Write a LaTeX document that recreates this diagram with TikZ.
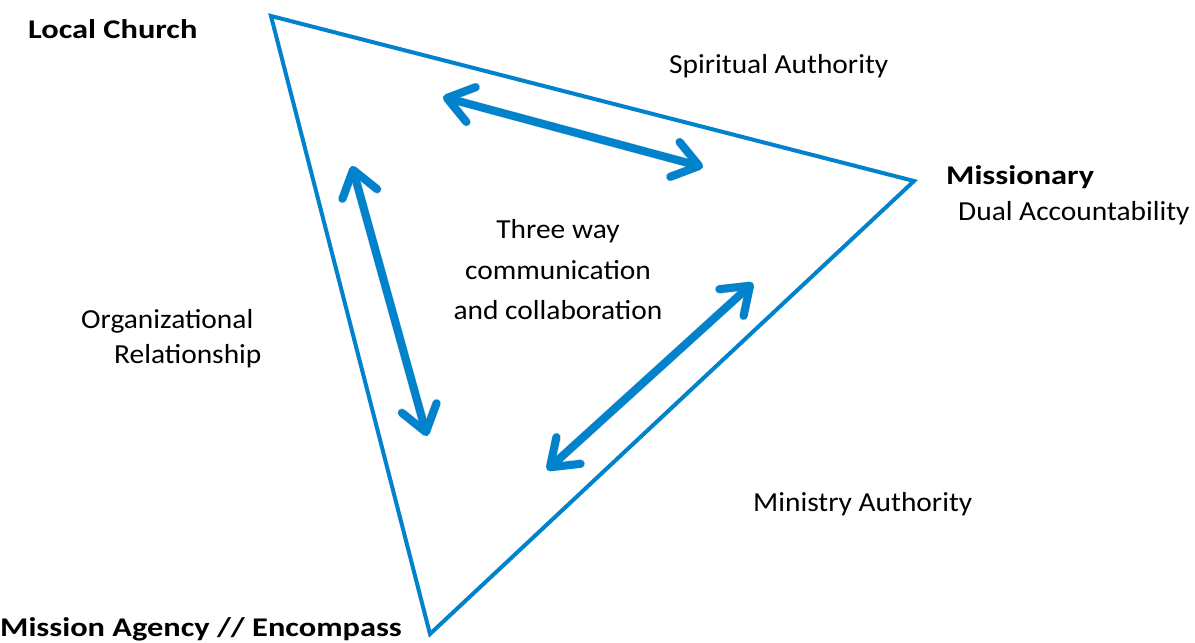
\documentclass[tikz,border=0pt]{standalone}
\usepackage{fontspec}
\setmainfont[FakeStretch=1.07]{Carlito}
\newfontfamily\boldfam[FakeStretch=1.2]{Carlito Bold}
\usetikzlibrary{arrows.meta}
\definecolor{tblue}{RGB}{0,130,204}
\begin{document}
\begin{tikzpicture}[x=1pt,y=-1pt,
  lbl/.style={inner sep=0pt,font=\fontsize{27.5}{32}\selectfont},
  blbl/.style={inner sep=0pt,font=\fontsize{27}{32}\boldfam},
  tri/.style={draw=tblue,line width=4pt,line join=miter},
  dbl/.style={draw=tblue,line width=8pt,line cap=round,
     {Straight Barb[length=25pt,width=36pt,round]}-{Straight Barb[length=25pt,width=36pt,round]}},
  shd/.style={draw=black,opacity=0.10,line width=9pt,line cap=round,
     {Straight Barb[length=25pt,width=36pt,round]}-{Straight Barb[length=25pt,width=36pt,round]}}]
\useasboundingbox (0,0) rectangle (1195,643);
\coordinate (LC) at (271,16);
\coordinate (MS) at (914,181);
\coordinate (MA) at (430,634);
\draw[tri] (LC) -- (MS) -- (MA) -- cycle;
% arrows end points
\coordinate (a1) at (443,97);  \coordinate (a2) at (703,167);
\coordinate (b1) at (352,166); \coordinate (b2) at (427,436);
\coordinate (c1) at (753,283); \coordinate (c2) at (547,470);
\begin{scope}[shift={(2,3)}]
\draw[shd] (a1) -- (a2);
\draw[shd] (b1) -- (b2);
\draw[shd] (c1) -- (c2);
\end{scope}
\draw[dbl] (a1) -- (a2);
\draw[dbl] (b1) -- (b2);
\draw[dbl] (c1) -- (c2);
% labels
\node[blbl,anchor=west] (tLC) at (28,29) {Local Church};
\node[blbl,anchor=west] (tMS) at (946,177) {Missionary};
\node[blbl,anchor=west] (tMA) at (0,629) {Mission Agency // Encompass};
\node[lbl,anchor=west] (tSA) at (669,66) {Spiritual Authority};
\node[lbl,anchor=west] (tDA) at (958,213) {Dual Accountability};
\node[lbl,anchor=west] (tMin) at (753,504) {Ministry Authority};
\node[lbl,anchor=west] (tOR1) at (81,321) {Organizational};
\node[lbl,anchor=west] (tOR2) at (114,356) {Relationship};
\node[lbl,align=center,font=\fontsize{27.5}{40.5}\selectfont] (tC) at (558,270) {Three way\\communication\\and collaboration};
\end{tikzpicture}
\end{document}
